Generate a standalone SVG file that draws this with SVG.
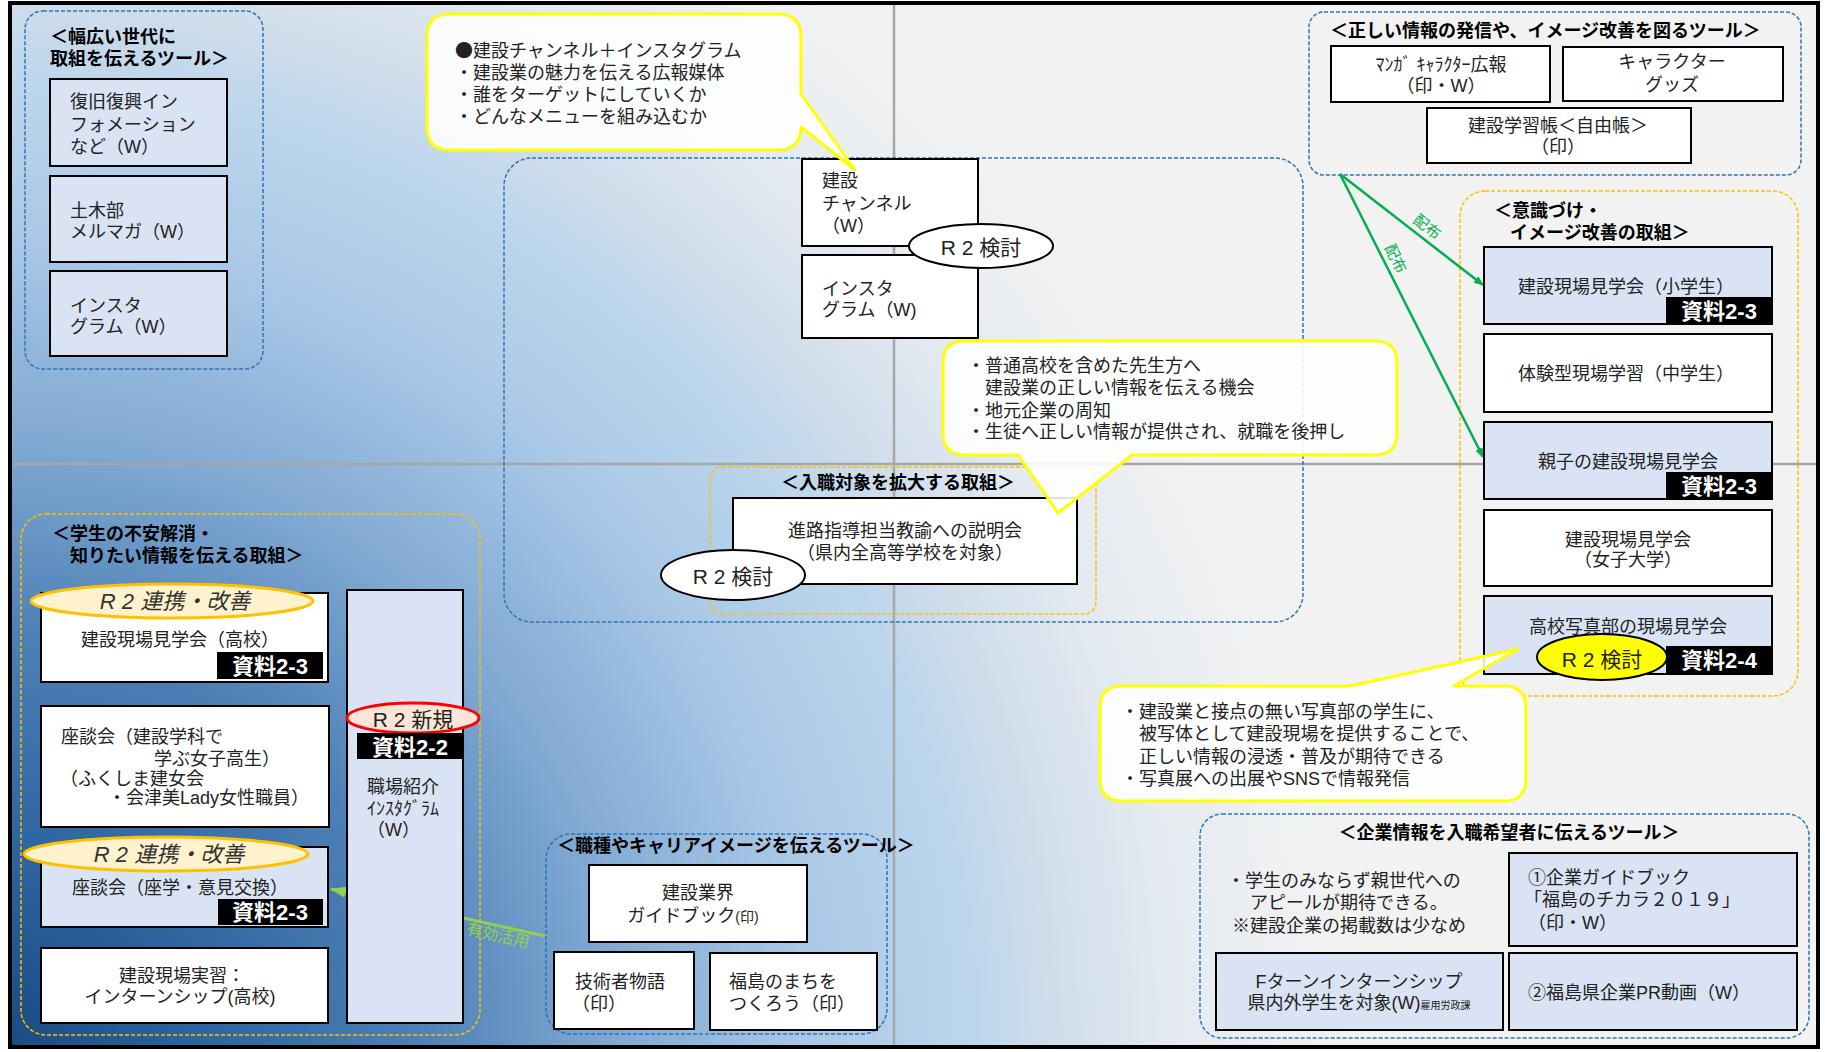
<svg xmlns="http://www.w3.org/2000/svg" width="1825" height="1052" viewBox="0 0 1825 1052">
<defs>
<radialGradient id="bg" gradientUnits="userSpaceOnUse" cx="0" cy="1052" r="1350">
<stop offset="0" stop-color="#1A4A80"/>
<stop offset="0.15" stop-color="#2D65A0"/>
<stop offset="0.31" stop-color="#4D80B5"/>
<stop offset="0.45" stop-color="#7FA8D2"/>
<stop offset="0.6" stop-color="#A9C8E6"/>
<stop offset="0.72" stop-color="#BDD6EC"/>
<stop offset="0.78" stop-color="#CFDDEB"/>
<stop offset="0.86" stop-color="#E2E9F0"/>
<stop offset="0.95" stop-color="#EEF0F2"/>
<stop offset="1" stop-color="#F2F2F2"/>
</radialGradient>
<marker id="ag" markerWidth="10" markerHeight="8" refX="9" refY="4" orient="auto" markerUnits="userSpaceOnUse" viewBox="0 0 10 8">
<path d="M0,0 L10,4 L0,8 Z" fill="#00B050"/>
</marker>
<marker id="al" markerWidth="16" markerHeight="11" refX="15" refY="5.5" orient="auto" markerUnits="userSpaceOnUse" viewBox="0 0 16 11">
<path d="M0,0 L16,5.5 L0,11 Z" fill="#92D050"/>
</marker>
<style>
text{font-family:"Liberation Sans","Noto Sans CJK JP",sans-serif;font-size:18px;fill:#222}
.cjk{font-family:"Noto Sans CJK JP",sans-serif}
.b{font-weight:bold;fill:#000}
.m{text-anchor:middle}
.lbl{font-weight:bold;fill:#fff;font-size:22px;text-anchor:middle}
.r2{font-size:21px;text-anchor:middle}
.it{font-style:italic;font-size:22px;text-anchor:middle;fill:#333}
.box{stroke:#000;stroke-width:2}
.wb{fill:#fff}
.lb{fill:#DAE3F3}
.blk{fill:#000}
.gb{fill:none;stroke:#2E75B6;stroke-width:1.5;stroke-dasharray:4 2}
.go{fill:none;stroke:#FFC000;stroke-width:1.5;stroke-dasharray:4 2}
.call{fill:#fff;fill-opacity:0.88;stroke:#FFFF00;stroke-width:3;stroke-linejoin:round}
.oe{fill:#FFF2CC;stroke:#FFC000;stroke-width:3}
.gl{stroke:#A6A6A6;stroke-width:2.5}
.gtx{fill:#00B050;font-size:15px;text-anchor:middle}
.ltx{fill:#92D050;font-size:16px;text-anchor:middle}
</style>
</defs>
<rect x="0" y="0" width="1825" height="1052" fill="#fff"/>
<rect x="10" y="3" width="1808" height="1044" fill="url(#bg)"/>
<line class="gl" x1="894" y1="3" x2="894" y2="1047"/>
<line class="gl" x1="10" y1="464" x2="1818" y2="464"/>

<g id="groups">
<rect class="gb" x="25" y="11" width="238" height="358" rx="18"/>
<rect class="gb" x="504" y="158" width="799" height="464" rx="28"/>
<rect class="go" x="710" y="467" width="386" height="147" rx="12"/>
<rect class="go" x="21" y="514" width="459" height="521" rx="25"/>
<rect class="gb" x="546" y="834" width="341" height="200" rx="25"/>
<rect class="gb" x="1309" y="12" width="492" height="163" rx="15"/>
<rect class="go" x="1460" y="191" width="338" height="505" rx="25"/>
<rect class="gb" x="1200" y="814" width="609" height="224" rx="22"/>
</g>

<g id="connectors">
<line x1="545" y1="936" x2="331" y2="889" stroke="#92D050" stroke-width="3" marker-end="url(#al)"/>
<text class="ltx" transform="translate(497,941) rotate(12.5)">有効活用</text>
<line x1="1340" y1="174" x2="1483" y2="285" stroke="#00B050" stroke-width="2.5" marker-end="url(#ag)"/>
<line x1="1340" y1="174" x2="1483" y2="457" stroke="#00B050" stroke-width="2.5" marker-end="url(#ag)"/>
<text class="gtx" transform="translate(1424,231) rotate(37.6)">配布</text>
<text class="gtx" transform="translate(1391,261) rotate(63.1)">配布</text>
</g>

<g id="tools-wide">
<text class="b" x="50" y="43">＜幅広い世代に</text>
<text class="b" x="50" y="65">取組を伝えるツール＞</text>
</g>
<g id="n-fukkyu">
<rect class="box lb" x="50" y="79" width="177" height="87"/>
<text x="70" y="108">復旧復興イン</text>
<text x="70" y="131">フォメーション</text>
<text x="70" y="153">など（W）</text>
</g>
<g id="n-merumaga">
<rect class="box lb" x="50" y="176" width="177" height="86"/>
<text x="70" y="217">土木部</text>
<text x="70" y="238">メルマガ（W）</text>
</g>
<g id="n-insta1">
<rect class="box lb" x="50" y="271" width="177" height="85"/>
<text x="70" y="312">インスタ</text>
<text x="70" y="333">グラム（W）</text>
</g>

<g id="n-channel">
<rect class="box wb" x="802" y="159" width="176" height="87"/>
<text x="822" y="187">建設</text>
<text x="822" y="210">チャンネル</text>
<text x="822" y="232">（W）</text>
</g>
<g id="n-insta2">
<rect class="box wb" x="802" y="255" width="176" height="83"/>
<text x="822" y="295">インスタ</text>
<text x="822" y="316">グラム（W)</text>
</g>
<g id="e-r2-1">
<ellipse class="box wb" cx="981" cy="246" rx="72" ry="22"/>
<text class="r2" x="981" y="255">R 2 検討</text>
</g>

<g id="g-nyushoku">
<text class="b m" x="898" y="489">＜入職対象を拡大する取組＞</text>
</g>
<g id="n-shinro">
<rect class="box wb" x="733" y="498" width="344" height="86"/>
<text class="m" x="905" y="537">進路指導担当教諭への説明会</text>
<text class="m" x="905" y="559">（県内全高等学校を対象）</text>
</g>
<g id="e-r2-2">
<ellipse class="box wb" cx="733" cy="575" rx="72" ry="25"/>
<text class="r2" x="733" y="584">R 2 検討</text>
</g>

<g id="g-gakusei">
<text class="b" x="52" y="540">＜学生の不安解消・</text>
<text class="b" x="70" y="562">知りたい情報を伝える取組＞</text>
</g>
<g id="n-kengaku-koko">
<rect class="box wb" x="41" y="593" width="287" height="89"/>
<text class="m" x="180" y="646">建設現場見学会（高校）</text>
<rect class="blk" x="217" y="652" width="106" height="27"/>
<text class="lbl" x="270" y="674">資料2-3</text>
<ellipse class="oe" cx="172" cy="601" rx="141" ry="17"/>
<text class="it" x="175" y="609">R 2 連携・改善</text>
</g>
<g id="n-zadankai1">
<rect class="box wb" x="41" y="706" width="288" height="121"/>
<text x="61" y="743">座談会（建設学科で</text>
<text x="154" y="765">学ぶ女子高生）</text>
<text x="60" y="785" font-size="16">（ふくしま建女会</text>
<text x="108" y="804" font-size="16">・会津美Lady女性職員）</text>
</g>
<g id="n-zadankai2">
<rect class="box lb" x="41" y="847" width="287" height="80"/>
<text class="m" x="180" y="894">座談会（座学・意見交換）</text>
<rect class="blk" x="218" y="899" width="105" height="26"/>
<text class="lbl" x="270" y="920">資料2-3</text>
<ellipse class="oe" cx="166" cy="854" rx="142" ry="17"/>
<text class="it" x="169" y="862">R 2 連携・改善</text>
</g>
<g id="n-intern">
<rect class="box wb" x="41" y="948" width="287" height="75"/>
<text class="m" x="182" y="982">建設現場実習：</text>
<text class="m" x="180" y="1003">インターンシップ(高校)</text>
</g>
<g id="n-shokuba">
<rect class="box lb" x="347" y="590" width="116" height="433"/>
<ellipse cx="413" cy="718" rx="66" ry="15" fill="#FBE5D6" stroke="#FF0000" stroke-width="3"/>
<text class="r2" x="413" y="727">R 2 新規</text>
<rect class="blk" x="357" y="733" width="106" height="26"/>
<text class="lbl" x="410" y="755">資料2-2</text>
<text x="367" y="793">職場紹介</text>
<text x="367" y="815">ｲﾝｽﾀｸﾞﾗﾑ</text>
<text x="367" y="836">（W）</text>
</g>

<g id="g-shokushu">
<text class="b" x="557" y="852">＜職種やキャリアイメージを伝えるツール＞</text>
</g>
<g id="n-guidebook">
<rect class="box wb" x="589" y="865" width="218" height="77"/>
<text class="m" x="698" y="899">建設業界</text>
<text class="m" x="693" y="922">ガイドブック<tspan font-size="14">(印)</tspan></text>
</g>
<g id="n-gijutsusha">
<rect class="box wb" x="554" y="952" width="140" height="77"/>
<text x="575" y="988">技術者物語</text>
<text x="572" y="1010">（印）</text>
</g>
<g id="n-machi">
<rect class="box wb" x="710" y="953" width="167" height="77"/>
<text x="729" y="988">福島のまちを</text>
<text x="729" y="1010">つくろう（印）</text>
</g>

<g id="g-tadashii">
<text class="b" x="1330" y="37">＜正しい情報の発信や、イメージ改善を図るツール＞</text>
</g>
<g id="n-manga">
<rect class="box wb" x="1331" y="46" width="219" height="56"/>
<text class="m" x="1441" y="71">ﾏﾝｶﾞ ｷｬﾗｸﾀｰ広報</text>
<text class="m" x="1441" y="92">（印・W）</text>
</g>
<g id="n-goods">
<rect class="box wb" x="1563" y="47" width="220" height="54"/>
<text class="m" x="1672" y="68" font-size="20">キャラクター</text>
<text class="m" x="1672" y="91" font-size="20">グッズ</text>
</g>
<g id="n-gakushucho">
<rect class="box wb" x="1427" y="108" width="264" height="55"/>
<text class="m" x="1558" y="132">建設学習帳＜自由帳＞</text>
<text class="m" x="1558" y="153">（印）</text>
</g>

<g id="g-ishiki">
<text class="b" x="1494" y="217">＜意識づけ・</text>
<text class="b" x="1510" y="239">イメージ改善の取組＞</text>
</g>
<g id="n-shogakusei">
<rect class="box lb" x="1484" y="247" width="288" height="77"/>
<text class="m" x="1626" y="293">建設現場見学会（小学生）</text>
<rect class="blk" x="1666" y="297" width="106" height="27"/>
<text class="lbl" x="1719" y="319">資料2-3</text>
</g>
<g id="n-chugakusei">
<rect class="box wb" x="1484" y="334" width="288" height="78"/>
<text class="m" x="1626" y="380">体験型現場学習（中学生）</text>
</g>
<g id="n-oyako">
<rect class="box lb" x="1484" y="422" width="288" height="77"/>
<text class="m" x="1628" y="468">親子の建設現場見学会</text>
<rect class="blk" x="1666" y="472" width="106" height="27"/>
<text class="lbl" x="1719" y="494">資料2-3</text>
</g>
<g id="n-joshidai">
<rect class="box wb" x="1484" y="510" width="288" height="76"/>
<text class="m" x="1628" y="546">建設現場見学会</text>
<text class="m" x="1628" y="566">（女子大学）</text>
</g>
<g id="n-shashin">
<rect class="box lb" x="1484" y="596" width="288" height="78"/>
<text class="m" x="1628" y="633">高校写真部の現場見学会</text>
<ellipse cx="1602" cy="657" rx="65" ry="23" fill="#FFFF00" stroke="#000" stroke-width="2"/>
<text class="r2" x="1602" y="667">R 2 検討</text>
<rect class="blk" x="1666" y="646" width="106" height="28"/>
<text class="lbl" x="1719" y="668">資料2-4</text>
</g>

<g id="g-kigyo">
<text class="b m" x="1509" y="839">＜企業情報を入職希望者に伝えるツール＞</text>
<text x="1227" y="887">・学生のみならず親世代への</text>
<text x="1250" y="909">アピールが期待できる。</text>
<text x="1232" y="932">※建設企業の掲載数は少なめ</text>
</g>
<g id="n-kigyoguide">
<rect class="box lb" x="1509" y="853" width="288" height="93"/>
<text x="1528" y="884">①企業ガイドブック</text>
<text x="1524" y="906">「福島のチカラ２０１９」</text>
<text x="1528" y="929">（印・W）</text>
</g>
<g id="n-fturn">
<rect class="box lb" x="1216" y="953" width="287" height="77"/>
<text class="m" x="1359" y="988">Fターンインターンシップ</text>
<text class="m" x="1359" y="1009" font-size="15">県内外学生を対象(W)<tspan font-size="10">雇用労政課</tspan></text>
</g>
<g id="n-prdouga">
<rect class="box lb" x="1509" y="953" width="288" height="77"/>
<text x="1528" y="999">②福島県企業PR動画（W）</text>
</g>

<g id="callout-1">
<path class="call" d="M450,14 H778 Q801,14 801,37 V94 L855,170 L801,127 Q801,150 778,150 H450 Q427,150 427,127 V37 Q427,14 450,14 Z"/>
<text x="455" y="57"><tspan class="cjk">●</tspan>建設チャンネル＋インスタグラム</text>
<text x="455" y="79">・建設業の魅力を伝える広報媒体</text>
<text x="455" y="101">・誰をターゲットにしていくか</text>
<text x="455" y="123">・どんなメニューを組み込むか</text>
</g>
<g id="callout-2">
<path class="call" d="M965,341 H1375 Q1397,341 1397,363 V433 Q1397,455 1375,455 H1132 L1058,513 L1018,455 H965 Q943,455 943,433 V363 Q943,341 965,341 Z"/>
<text x="967" y="372">・普通高校を含めた先生方へ</text>
<text x="985" y="394">建設業の正しい情報を伝える機会</text>
<text x="967" y="417">・地元企業の周知</text>
<text x="967" y="438">・生徒へ正しい情報が提供され、就職を後押し</text>
</g>
<g id="callout-3">
<path class="call" d="M1122,686 H1350 L1518,649 L1454,686 H1504 Q1526,686 1526,708 V779 Q1526,801 1504,801 H1122 Q1100,801 1100,779 V708 Q1100,686 1122,686 Z"/>
<text x="1121" y="718">・建設業と接点の無い写真部の学生に、</text>
<text x="1139" y="740">被写体として建設現場を提供することで、</text>
<text x="1139" y="763">正しい情報の浸透・普及が期待できる</text>
<text x="1121" y="785">・写真展への出展やSNSで情報発信</text>
</g>

<rect x="10" y="3" width="1808" height="1044" fill="none" stroke="#000" stroke-width="4"/>
</svg>
